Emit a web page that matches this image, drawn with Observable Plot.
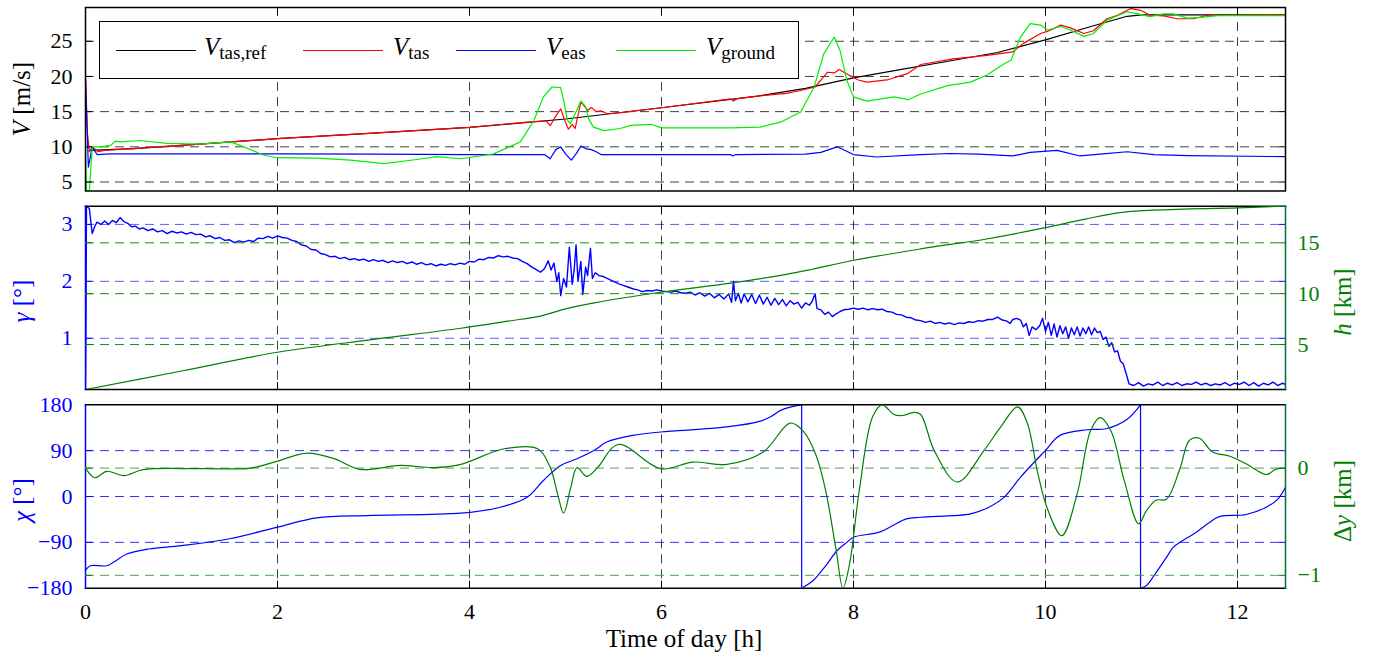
<!DOCTYPE html>
<html><head><meta charset="utf-8">
<script src="https://cdn.jsdelivr.net/npm/d3@7"></script>
<script src="https://cdn.jsdelivr.net/npm/@observablehq/plot@0.6"></script>
<style>
html,body{margin:0;padding:0;background:#fff;}
#chart{position:relative;width:1380px;height:660px;font-family:"Liberation Serif","Times New Roman",serif;overflow:hidden;}
#chart svg{position:absolute;left:0;top:0;}
.lbl{position:absolute;font-size:25px;line-height:25px;white-space:nowrap;transform:translate(-50%,-50%) rotate(-90deg);}
.xl{position:absolute;font-size:25px;line-height:25px;white-space:nowrap;transform:translateX(-50%);}
i{font-style:italic}
#legend{position:absolute;left:99px;top:21px;width:698px;height:56px;border:1.5px solid #000;background:#fff;}
.ls{position:absolute;height:0;border-top:1.3px solid;width:80px;top:28px;}
.lt{position:absolute;top:12px;font-size:25px;line-height:25px;white-space:nowrap;}
.lt sub{font-size:19px;font-style:normal;vertical-align:-4px;line-height:0;}
</style></head>
<body><div id="chart"></div>
<script>
// ---------------- data ----------------
const xTicks = [0, 2, 4, 6, 8, 10, 12];
const xGrid = [2, 4, 6, 8, 10, 12];
const vTicks = [5, 10, 15, 20, 25];
const gammaTicks = [1, 2, 3];
const hTicks = [5, 10, 15];
const chiTicks = [-180, -90, 0, 90, 180];
const chiGrid = [-90, 0, 90];
const dyTicks = [-1, 0];

const vRef = [[0.05,9.5],[0.5,9.75],[1,10.2],[2,11.15],[3,11.95],[4,12.75],[5,13.95],[6,15.55],[7,17.2],[7.5,18.3],[8,19.8],[8.5,21.0],[9,22.2],[9.5,23.4],[10,25.2],[10.5,27.2],[10.85,28.55],[11,28.75],[12.5,28.75]];
const vTas = [[0,20.3],[0.02,12],[0.04,9.3],[0.07,10.0],[0.13,9.3],[0.2,9.5],[0.5,9.75],[1,10.2],[2,11.15],[3,11.95],[4,12.75],[4.6,13.5],[4.8,13.7],[4.84,13.0],[4.9,14.4],[4.95,15.4],[5.0,13.5],[5.03,12.5],[5.07,13.2],[5.1,12.6],[5.16,16.4],[5.23,15.2],[5.27,15.6],[5.32,15.0],[5.37,15.1],[5.44,14.7],[5.6,14.9],[6,15.55],[6.72,16.8],[6.75,16.5],[6.78,16.8],[7,17.2],[7.3,17.6],[7.45,18.0],[7.6,18.5],[7.68,19.8],[7.73,20.6],[7.8,20.5],[7.85,21.0],[7.95,20.2],[8.05,19.5],[8.14,19.2],[8.35,19.5],[8.56,20.4],[8.7,21.7],[9.04,22.5],[9.39,23.0],[9.66,23.5],[9.77,24.7],[9.95,26.1],[10.02,26.4],[10.16,27.3],[10.26,26.9],[10.4,26.1],[10.5,26.5],[10.64,28.2],[10.75,28.7],[10.89,29.65],[10.99,29.4],[11.09,28.7],[11.23,28.6],[11.37,28.2],[11.54,28.2],[11.69,28.7],[12.5,28.75]];
const vEas = [[0,19.5],[0.03,7.1],[0.07,10.0],[0.12,8.9],[0.26,9.0],[1,9.0],[2,9.0],[3,8.95],[4,8.9],[4.78,8.9],[4.84,8.3],[4.9,9.6],[4.95,10.0],[5.0,9.0],[5.06,8.1],[5.11,9.0],[5.16,10.1],[5.22,9.7],[5.27,9.6],[5.32,9.3],[5.37,8.9],[6,8.9],[6.72,8.9],[6.74,8.7],[6.77,8.9],[7.5,8.95],[7.66,9.2],[7.83,10.0],[8.0,8.9],[8.24,8.55],[8.7,8.9],[9.0,9.05],[9.3,8.95],[9.66,8.7],[9.84,9.2],[10.12,9.5],[10.36,8.7],[10.6,9.0],[10.85,9.3],[11.13,8.9],[11.48,8.75],[12.5,8.6]];
const vGround = [[0,9.8],[0.01,3.7],[0.04,3.7],[0.07,10.0],[0.16,10.0],[0.26,10.2],[0.31,10.8],[0.36,10.7],[0.57,10.9],[0.85,10.5],[1.2,10.4],[1.51,10.7],[1.61,10.2],[1.86,8.8],[2.0,8.45],[2.41,8.4],[2.76,8.1],[3.11,7.6],[3.45,8.2],[3.66,8.6],[3.91,8.3],[4.25,9.0],[4.53,10.7],[4.67,13.7],[4.77,17.1],[4.86,18.5],[4.95,18.4],[4.98,16.6],[5.02,13.8],[5.05,13.3],[5.10,14.7],[5.16,16.5],[5.21,15.7],[5.24,14.0],[5.29,12.8],[5.40,12.3],[5.57,12.6],[5.68,13.05],[5.89,13.2],[6.0,12.7],[6.72,12.7],[7.03,12.8],[7.24,13.5],[7.45,14.95],[7.59,18.5],[7.69,23.2],[7.80,25.6],[7.86,23.7],[7.93,19.45],[8.0,17.1],[8.14,16.5],[8.42,17.1],[8.57,16.7],[8.70,17.5],[8.98,18.7],[9.22,19.2],[9.39,20.2],[9.57,21.8],[9.64,22.3],[9.74,25.6],[9.84,27.5],[9.95,27.3],[10.02,26.6],[10.16,27.1],[10.26,26.6],[10.4,25.7],[10.5,26.1],[10.64,28.0],[10.85,29.2],[10.96,28.9],[11.09,28.5],[11.23,28.9],[11.33,28.9],[11.48,28.3],[11.61,28.4],[11.8,28.65],[12.5,28.65]];

const gamma = [[0,0.1],[0.005,1.28],[0.01,3.32],[0.04,3.28],[0.07,2.84],[0.1,2.98],[0.12,3.04],[0.16,3.0],[0.2,3.06],[0.24,3.0],[0.28,3.07],[0.32,3.03],[0.36,3.12],[0.4,3.05],[0.44,3.02],[0.48,2.96],[0.52,2.97],[0.56,2.92],[0.6,2.94],[0.65,2.89],[0.7,2.92],[0.75,2.87],[0.8,2.89],[0.85,2.84],[0.9,2.88],[0.95,2.85],[1.0,2.87],[1.05,2.83],[1.1,2.86],[1.15,2.82],[1.2,2.83],[1.25,2.78],[1.3,2.8],[1.35,2.75],[1.4,2.77],[1.45,2.72],[1.5,2.73],[1.55,2.68],[1.6,2.71],[1.65,2.69],[1.7,2.72],[1.75,2.7],[1.8,2.76],[1.85,2.75],[1.9,2.79],[1.95,2.76],[2.0,2.8],[2.05,2.77],[2.1,2.76],[2.15,2.72],[2.2,2.7],[2.25,2.64],[2.3,2.62],[2.35,2.56],[2.4,2.55],[2.45,2.49],[2.5,2.47],[2.55,2.43],[2.6,2.44],[2.65,2.4],[2.7,2.42],[2.75,2.38],[2.8,2.4],[2.85,2.37],[2.9,2.39],[2.95,2.35],[3.0,2.38],[3.05,2.35],[3.1,2.37],[3.15,2.33],[3.2,2.36],[3.25,2.33],[3.3,2.35],[3.35,2.31],[3.4,2.34],[3.45,2.3],[3.5,2.33],[3.55,2.29],[3.6,2.31],[3.65,2.27],[3.7,2.3],[3.75,2.28],[3.8,2.31],[3.85,2.29],[3.9,2.32],[3.95,2.3],[4.0,2.35],[4.05,2.34],[4.1,2.39],[4.15,2.38],[4.2,2.42],[4.25,2.41],[4.3,2.45],[4.35,2.43],[4.4,2.44],[4.45,2.41],[4.5,2.4],[4.55,2.35],[4.6,2.31],[4.65,2.25],[4.7,2.2],[4.74,2.16],[4.78,2.22],[4.82,2.36],[4.85,2.2],[4.88,2.32],[4.91,2.0],[4.93,2.15],[4.95,1.75],[4.98,2.05],[5.01,1.9],[5.04,2.6],[5.07,1.95],[5.09,2.2],[5.11,2.64],[5.13,2.0],[5.16,2.35],[5.18,1.77],[5.21,2.25],[5.23,2.1],[5.26,2.58],[5.28,2.05],[5.31,2.15],[5.35,2.1],[5.4,2.08],[5.45,2.04],[5.5,2.0],[5.55,1.96],[5.6,1.93],[5.65,1.9],[5.7,1.87],[5.75,1.85],[5.8,1.82],[5.85,1.84],[5.9,1.83],[5.95,1.85],[6.0,1.83],[6.05,1.82],[6.1,1.81],[6.15,1.83],[6.2,1.8],[6.25,1.79],[6.3,1.81],[6.35,1.76],[6.4,1.8],[6.45,1.74],[6.5,1.79],[6.55,1.71],[6.6,1.77],[6.65,1.69],[6.7,1.78],[6.73,1.63],[6.75,2.0],[6.77,1.66],[6.8,1.79],[6.83,1.62],[6.86,1.78],[6.9,1.64],[6.94,1.77],[6.98,1.61],[7.02,1.76],[7.06,1.6],[7.1,1.72],[7.14,1.58],[7.18,1.7],[7.22,1.59],[7.26,1.68],[7.3,1.57],[7.34,1.66],[7.38,1.6],[7.42,1.63],[7.46,1.53],[7.5,1.62],[7.54,1.58],[7.57,1.65],[7.6,1.78],[7.62,1.52],[7.66,1.5],[7.7,1.42],[7.74,1.46],[7.78,1.38],[7.82,1.43],[7.86,1.47],[7.9,1.5],[7.95,1.51],[8.0,1.53],[8.05,1.51],[8.1,1.53],[8.15,1.5],[8.2,1.52],[8.25,1.5],[8.3,1.51],[8.35,1.47],[8.4,1.46],[8.45,1.42],[8.5,1.41],[8.55,1.37],[8.6,1.36],[8.65,1.32],[8.7,1.31],[8.75,1.28],[8.8,1.3],[8.85,1.26],[8.9,1.28],[8.95,1.25],[9.0,1.27],[9.05,1.24],[9.1,1.27],[9.15,1.26],[9.2,1.29],[9.25,1.28],[9.3,1.31],[9.35,1.3],[9.4,1.33],[9.45,1.33],[9.5,1.37],[9.55,1.32],[9.6,1.3],[9.63,1.26],[9.66,1.33],[9.7,1.35],[9.74,1.32],[9.77,1.2],[9.8,1.26],[9.83,1.05],[9.86,1.2],[9.9,1.15],[9.94,1.22],[9.97,1.35],[10.0,1.12],[10.03,1.28],[10.06,1.05],[10.09,1.25],[10.12,1.02],[10.15,1.22],[10.18,1.08],[10.21,1.2],[10.24,1.0],[10.27,1.18],[10.3,1.06],[10.33,1.2],[10.36,1.04],[10.39,1.18],[10.42,1.08],[10.45,1.2],[10.48,1.06],[10.51,1.18],[10.54,1.1],[10.57,1.12],[10.6,0.98],[10.63,1.02],[10.66,0.86],[10.69,0.92],[10.72,0.76],[10.75,0.78],[10.78,0.6],[10.81,0.55],[10.84,0.38],[10.87,0.2],[10.92,0.17],[10.97,0.22],[11.02,0.16],[11.07,0.2],[11.12,0.18],[11.17,0.23],[11.22,0.17],[11.27,0.21],[11.32,0.18],[11.37,0.22],[11.42,0.17],[11.47,0.2],[11.52,0.19],[11.57,0.23],[11.62,0.18],[11.67,0.21],[11.72,0.17],[11.77,0.2],[11.82,0.18],[11.87,0.22],[11.92,0.17],[11.97,0.21],[12.02,0.19],[12.07,0.23],[12.12,0.17],[12.17,0.22],[12.22,0.16],[12.27,0.21],[12.32,0.18],[12.37,0.23],[12.42,0.17],[12.47,0.21],[12.5,0.19]];

const altitude = [[0,0.58],[1,2.4],[2,4.24],[3,5.5],[3.91,6.6],[4.4,7.3],[4.74,7.8],[5.0,8.5],[5.3,9.1],[5.99,10.14],[6.74,11.07],[7.3,11.9],[7.57,12.4],[7.99,13.26],[8.7,14.4],[9.4,15.4],[10.0,16.5],[10.4,17.3],[10.8,18.0],[12.0,18.44],[12.5,18.6]];

const chi1 = [[0,-145],[0.05,-136],[0.22,-136],[0.3,-128],[0.43,-113],[0.66,-103],[1.0,-96.5],[1.5,-83],[2.0,-60],[2.41,-42],[2.93,-37.4],[3.91,-32.8],[4.3,-22],[4.6,-1.3],[4.77,31.5],[4.95,61],[5.12,74],[5.3,90.6],[5.43,107],[5.7,120],[5.99,126.6],[6.68,136.5],[7.03,148],[7.15,158],[7.24,169],[7.35,176],[7.46,180]];
const chi2 = [[7.46,-180],[7.58,-165],[7.71,-136],[7.83,-106],[7.93,-90],[8.0,-80],[8.27,-70],[8.4,-58],[8.55,-44],[8.70,-40.7],[9.22,-34],[9.4,-22],[9.57,-1.3],[9.74,38],[10.0,90.6],[10.15,120],[10.43,131],[10.63,133],[10.84,150],[10.99,180]];
const chi3 = [[10.99,-180],[11.05,-175],[11.15,-150],[11.26,-119.5],[11.33,-100],[11.4,-90],[11.57,-70],[11.7,-52],[11.81,-39.4],[12.09,-35.4],[12.3,-21],[12.42,-5],[12.5,18]];

const deltaY = [[0.0,0.0],[0.1,-0.09],[0.22,-0.03],[0.4,-0.07],[0.6,-0.015],[1.2,-0.005],[1.72,0.0],[2.0,0.065],[2.31,0.14],[2.59,0.088],[2.86,-0.012],[3.28,0.025],[3.63,0.005],[3.91,0.035],[4.36,0.18],[4.71,0.18],[4.84,0.01],[4.92,-0.25],[4.98,-0.42],[5.05,-0.2],[5.12,0.004],[5.22,-0.077],[5.33,0.0],[5.55,0.22],[5.99,-0.006],[6.33,0.056],[6.68,0.035],[7.06,0.15],[7.34,0.42],[7.48,0.34],[7.61,0.12],[7.71,-0.21],[7.82,-0.77],[7.89,-1.12],[7.96,-0.89],[8.06,-0.21],[8.20,0.48],[8.30,0.59],[8.42,0.5],[8.51,0.49],[8.63,0.52],[8.70,0.50],[8.84,0.165],[9.08,-0.13],[9.36,0.165],[9.53,0.38],[9.71,0.57],[9.81,0.42],[9.92,-0.05],[10.02,-0.38],[10.17,-0.63],[10.33,-0.24],[10.47,0.35],[10.57,0.47],[10.68,0.35],[10.82,-0.115],[10.97,-0.52],[11.05,-0.4],[11.15,-0.3],[11.26,-0.29],[11.4,-0.006],[11.5,0.26],[11.6,0.28],[11.74,0.15],[11.92,0.11],[12.09,0.04],[12.3,-0.06],[12.4,-0.01],[12.5,0.0]];

// ---------------- layout ----------------
const W = 1380, H = 660, ML = 85, MR = 95;
const P1 = [7, 190.5], P2 = [205.7, 389], P3 = [404.3, 587.7];
const FONT = "Liberation Serif";
const BLUE = "#0000ff", GREEN = "#008000", LIME = "#00ee00", RED = "#ff0000";
const chart = document.getElementById("chart");
const X = d => d[0], Y = d => d[1];
const fmt = d3.format("~g");

const dashBlack = {stroke: "#000", strokeOpacity: 0.75, strokeDasharray: "9,6", strokeWidth: 1};
const dashBlue2 = {stroke: "#4a4aff", strokeOpacity: 0.9, strokeDasharray: "9,6", strokeWidth: 1};
const dashGreen2 = {stroke: GREEN, strokeOpacity: 0.9, strokeDasharray: "9,6", strokeWidth: 1};
const dashBlue3 = {stroke: "#1a1aff", strokeOpacity: 0.9, strokeDasharray: "9,6", strokeWidth: 1};
const dashGreen3 = {stroke: "#3a9a3a", strokeOpacity: 0.9, strokeDasharray: "9,6", strokeWidth: 1};

function inTicksY(ticks, color) {
  return [
    Plot.axisY(ticks, {anchor: "left", tickSize: -7, fill: "none", stroke: color, label: null}),
    Plot.axisY(ticks, {anchor: "right", tickSize: -7, fill: "none", stroke: color, label: null})
  ];
}
function inTicksX() {
  return [
    Plot.axisX(xGrid, {anchor: "bottom", tickSize: -7, fill: "none", stroke: "#000", label: null}),
    Plot.axisX(xGrid, {anchor: "top", tickSize: -7, fill: "none", stroke: "#000", label: null})
  ];
}
function tickText(axis, ticks, anchor, color, pad) {
  return axis(ticks, {anchor, tickSize: 0, tickPadding: pad, fontSize: 22, fontFamily: FONT, fill: color, tickFormat: fmt, label: null});
}
function layer(panel, yDomain, marks) {
  const svg = Plot.plot({
    width: W, height: H, marginLeft: ML, marginRight: MR,
    marginTop: panel[0], marginBottom: H - panel[1],
    x: {domain: [0, 12.5], axis: null},
    y: {domain: yDomain, axis: null},
    style: {background: "transparent", fontFamily: FONT, fontSize: "22px", overflow: "visible"},
    marks
  });
  chart.appendChild(svg);
  return svg;
}

// Panel 1: speeds
layer(P1, [3.72, 29.8], [
  Plot.gridY(vTicks, dashBlack),
  Plot.gridX(xGrid, dashBlack),
  Plot.line(vRef, {x: X, y: Y, stroke: "#000", strokeWidth: 1.2, clip: true}),
  Plot.line(vTas, {x: X, y: Y, stroke: RED, strokeWidth: 1.2, clip: true}),
  Plot.line(vEas, {x: X, y: Y, stroke: BLUE, strokeWidth: 1.2, clip: true}),
  Plot.line(vGround, {x: X, y: Y, stroke: LIME, strokeWidth: 1.2, clip: true}),
  ...inTicksY(vTicks, "#000"), ...inTicksX(),
  Plot.frame({stroke: "#000", strokeWidth: 1.5}),
  tickText(Plot.axisY, vTicks, "left", "#000", 13)
]);

// Panel 2: flight path angle (left)
layer(P2, [0.1, 3.32], [
  Plot.gridY(gammaTicks, dashBlue2),
  Plot.gridX(xGrid, dashBlack),
  Plot.line(gamma, {x: X, y: Y, stroke: BLUE, strokeWidth: 1.4, clip: true}),
  ...inTicksY(gammaTicks, BLUE), ...inTicksX(),
  Plot.frame({anchor: "top", stroke: "#000", strokeWidth: 1.5}),
  Plot.frame({anchor: "bottom", stroke: "#000", strokeWidth: 1.5}),
  Plot.frame({anchor: "left", stroke: BLUE, strokeWidth: 1.5}),
  tickText(Plot.axisY, gammaTicks, "left", BLUE, 13)
]);
// Panel 2: altitude (right)
layer(P2, [0.58, 18.6], [
  Plot.gridY(hTicks, dashGreen2),
  Plot.line(altitude, {x: X, y: Y, stroke: GREEN, strokeWidth: 1.2, curve: "catmull-rom", clip: true}),
  ...inTicksY(hTicks, GREEN),
  Plot.frame({anchor: "right", stroke: "#0a6a3a", strokeWidth: 1.5}),
  tickText(Plot.axisY, hTicks, "right", GREEN, 12)
]);

// Panel 3: course angle (left)
const chiRows = [];
[chi1, chi2, chi3].forEach((seg, i) => seg.forEach(p => chiRows.push({t: p[0], v: p[1], z: "s" + i})));
[[chi1, chi2], [chi2, chi3]].forEach(([a, b], i) => {
  const p = a[a.length - 1], q = b[0];
  chiRows.push({t: p[0], v: p[1], z: "j" + i}, {t: q[0], v: q[1], z: "j" + i});
});
layer(P3, [-180, 180], [
  Plot.gridY(chiGrid, dashBlue3),
  Plot.gridX(xGrid, dashBlack),
  Plot.line(chiRows, {x: "t", y: "v", z: "z", stroke: BLUE, strokeWidth: 1.2, curve: "catmull-rom", clip: true}),
  ...inTicksY(chiGrid, BLUE), ...inTicksX(),
  Plot.frame({anchor: "top", stroke: "#000", strokeWidth: 1.5}),
  Plot.frame({anchor: "bottom", stroke: "#000", strokeWidth: 1.5}),
  Plot.frame({anchor: "left", stroke: BLUE, strokeWidth: 1.5}),
  tickText(Plot.axisY, chiTicks, "left", BLUE, 13),
  tickText(Plot.axisX, xTicks, "bottom", "#000", 15)
]);
// Panel 3: lateral deviation (right)
layer(P3, [-1.12, 0.59], [
  Plot.gridY(dyTicks, dashGreen3),
  Plot.line(deltaY, {x: X, y: Y, stroke: GREEN, strokeWidth: 1.2, curve: "catmull-rom", clip: true}),
  ...inTicksY(dyTicks, GREEN),
  Plot.frame({anchor: "right", stroke: "#0a6a3a", strokeWidth: 1.5}),
  tickText(Plot.axisY, dyTicks, "right", GREEN, 12)
]);

// ---------------- axis titles & legend (HTML text) ----------------
function addLabel(html, cx, cy, color, cls) {
  const d = document.createElement("div");
  d.className = cls || "lbl";
  d.innerHTML = html;
  d.style.left = cx + "px";
  d.style.top = cy + "px";
  d.style.color = color;
  chart.appendChild(d);
}
addLabel('<i>V</i> [m/s]', 21, 99, "#000");
addLabel('<i>γ</i> [°]', 21, 301, BLUE);
addLabel('<i>h</i> [km]', 1342, 302, GREEN);
addLabel('<i>χ</i> [°]', 21, 500, BLUE);
addLabel('Δ<i>y</i> [km]', 1342, 501, GREEN);
addLabel('Time of day [h]', 684, 626, "#000", "xl");

const legendItems = [
  {color: "#000", html: '<i>V</i><sub>tas,ref</sub>', line: 16, text: 104},
  {color: RED, html: '<i>V</i><sub>tas</sub>', line: 203, text: 293},
  {color: BLUE, html: '<i>V</i><sub>eas</sub>', line: 356, text: 446},
  {color: LIME, html: '<i>V</i><sub>ground</sub>', line: 516, text: 606}
];
const lg = document.createElement("div");
lg.id = "legend";
legendItems.forEach(it => {
  const s = document.createElement("div");
  s.className = "ls"; s.style.left = it.line + "px"; s.style.borderTopColor = it.color;
  lg.appendChild(s);
  const t = document.createElement("div");
  t.className = "lt"; t.style.left = it.text + "px"; t.innerHTML = it.html;
  lg.appendChild(t);
});
chart.appendChild(lg);
</script>
</body></html>
